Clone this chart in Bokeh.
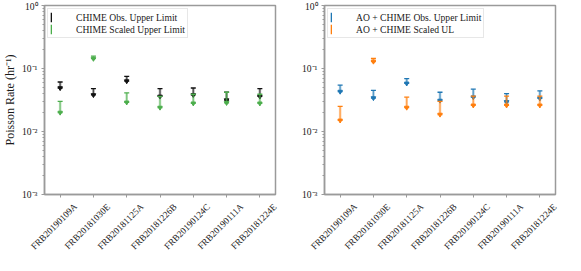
import math
from bokeh.plotting import figure
from bokeh.models import (ColumnDataSource, Range1d, Legend, LegendItem,
                          CustomJSTickFormatter, LogTicker, FixedTicker)
from bokeh.layouts import row, column
from bokeh.embed import file_html
from bokeh.resources import INLINE

frbs = ["FRB20190109A", "FRB20181030E", "FRB20181125A", "FRB20181226B",
        "FRB20190124C", "FRB20190111A", "FRB20181224E"]

# Left panel
chime_obs_ul = [0.061, 0.048, 0.075, 0.048, 0.049, 0.042, 0.048]
chime_obs_low = [0.049, 0.038, 0.063, 0.036, 0.038, 0.0315, 0.036]
chime_scaled_ul = [0.030, 0.157, 0.041, 0.036, 0.039, 0.042, 0.039]
chime_scaled_low = [0.020, 0.143, 0.029, 0.024, 0.028, 0.0285, 0.028]

# Right panel
ao_obs_ul = [0.0545, 0.045, 0.069, 0.042, 0.047, 0.040, 0.044]
ao_obs_low = [0.043, 0.034, 0.058, 0.031, 0.035, 0.0296, 0.0336]
ao_scaled_ul = [0.025, 0.144, 0.035, 0.030, 0.0365, 0.0365, 0.0365]
ao_scaled_low = [0.015, 0.129, 0.024, 0.0186, 0.026, 0.026, 0.026]

Y_MIN, Y_MAX = 1e-3, 1.0
xpos = list(range(len(frbs)))
X_PAD = 0.47
X0, X1 = -X_PAD, len(frbs) - 1 + X_PAD

FONT = "Liberation Serif"
FS_TICK = "9.2px"
FS_LEG = "9.6px"
FS_YLAB = "12px"
SPINE = "#9a9a9a"
TXT = "#1a1a1a"

FRAME_W, FRAME_H = 231, 189
TOP_B, BOT_B = 5, 6
LAB_H = 60
LAB_CENTER_FROM_TOP = 26
# (left border, right border) of the two panels
B1 = (40, 14)
B2 = (35, 10)

sup_js = """
const e = Math.round(Math.log10(tick));
const m = {"-":"\u207b","0":"\u2070","1":"\u00b9","2":"\u00b2","3":"\u00b3","4":"\u2074","5":"\u2075","6":"\u2076","7":"\u2077","8":"\u2078","9":"\u2079"};
return "10" + String(e).split("").map(c => m[c]).join("");
"""


def make_panel(series, ylabel, borders):
    p = figure(x_range=Range1d(X0, X1),
               y_axis_type="log", y_range=Range1d(Y_MIN, Y_MAX),
               frame_width=FRAME_W, frame_height=FRAME_H,
               min_border_left=borders[0], min_border_right=borders[1],
               min_border_top=TOP_B, min_border_bottom=BOT_B,
               output_backend="svg", toolbar_location=None)
    p.grid.visible = False
    p.outline_line_color = SPINE
    p.outline_line_width = 1.5
    p.background_fill_color = "white"
    p.border_fill_color = "white"

    for ax in (p.xaxis[0], p.yaxis[0]):
        ax.axis_line_color = SPINE
        ax.axis_line_width = 1.5
        ax.major_tick_line_color = SPINE
        ax.minor_tick_line_color = SPINE
        ax.major_label_text_font = FONT
        ax.major_label_text_font_size = FS_TICK
        ax.major_label_text_color = TXT
        ax.axis_label_text_font = FONT
        ax.axis_label_text_font_size = FS_YLAB
        ax.axis_label_text_font_style = "normal"
        ax.axis_label_text_color = TXT

    # x ticks only; the names are drawn centred & rotated in the strip below
    p.xaxis.ticker = FixedTicker(ticks=xpos, minor_ticks=[])
    p.xaxis.formatter = CustomJSTickFormatter(code="return '';")
    p.xaxis.major_label_text_font_size = "1px"
    p.xaxis.major_label_standoff = 0
    p.xaxis.major_tick_out = 3
    p.xaxis.major_tick_in = 0

    p.yaxis.ticker = LogTicker(num_minor_ticks=10)
    p.yaxis.formatter = CustomJSTickFormatter(code=sup_js)
    p.yaxis.major_label_text_font_size = "9.6px"
    p.yaxis.major_tick_out = 3
    p.yaxis.major_tick_in = 0
    p.yaxis.minor_tick_out = 2
    p.yaxis.minor_tick_in = 0
    p.yaxis.major_label_standoff = 4
    if ylabel:
        p.yaxis.axis_label = ylabel
        p.yaxis.axis_label_standoff = 2

    items = []
    for label, top, low, color in series:
        src = ColumnDataSource(dict(x=xpos, top=top, low=low))
        p.segment(x0="x", y0="low", x1="x", y1="top", source=src,
                  line_color=color, line_width=2.5, line_alpha=0.4)
        p.segment(x0="x", y0="low", x1="x", y1="top", source=src,
                  line_color=color, line_width=0.8, line_alpha=0.8)
        p.scatter(x="x", y="top", source=src, marker="dash", size=5,
                  line_color=color, line_width=1.3)
        p.scatter(x="x", y="low", source=src, marker="dash", size=5,
                  line_color=color, line_width=1.3)
        p.scatter(x="x", y="low", source=src, marker="inverted_triangle",
                  size=4.5, line_color=color, fill_color=color)
        # legend icon: thin vertical bar (one invisible point)
        r1 = p.vbar(x=[xpos[0]], top=[float("nan")], bottom=[float("nan")],
                    width=0.05, fill_color=color, line_color=None)
        items.append(LegendItem(label=label, renderers=[r1]))

    leg = Legend(items=items, location="top_left")
    leg.label_text_font = FONT
    leg.label_text_font_size = FS_LEG
    leg.label_text_color = TXT
    leg.label_standoff = 24
    leg.glyph_width = 2
    leg.glyph_height = 12
    leg.label_height = 12
    leg.padding = 2
    leg.spacing = 0
    leg.margin = 3
    leg.border_line_color = "#d0d0d0"
    leg.border_line_width = 1
    leg.background_fill_alpha = 0.9
    p.add_layout(leg)
    return p


p1 = make_panel([
    ("CHIME Obs. Upper Limit", chime_obs_ul, chime_obs_low, "#111111"),
    ("CHIME Scaled Upper Limit", chime_scaled_ul, chime_scaled_low, "#4cae4c"),
], "Poisson Rate (hr\u207b\u00b9)", B1)

p2 = make_panel([
    ("AO + CHIME Obs. Upper Limit", ao_obs_ul, ao_obs_low, "#1f77b4"),
    ("AO + CHIME Scaled UL", ao_scaled_ul, ao_scaled_low, "#ff7f0e"),
], None, B2)

# Strip under both panels with the rotated, centred category names
# (pixel-unit ranges; x positions follow each panel's own x scale)
W1 = B1[0] + FRAME_W + B1[1]
W2 = B2[0] + FRAME_W + B2[1]
pxu = FRAME_W / (X1 - X0)
frame_left = [B1[0], W1 + B2[0]]
lab_x, lab_t = [], []
for fl in frame_left:
    for xi, name in zip(xpos, frbs):
        lab_x.append(fl + (xi - X0) * pxu)
        lab_t.append(name)

strip = figure(x_range=Range1d(0, W1 + W2), y_range=Range1d(-LAB_H, 0),
               frame_width=W1 + W2, frame_height=LAB_H,
               min_border_left=0, min_border_right=0,
               min_border_top=0, min_border_bottom=0,
               output_backend="svg", toolbar_location=None)
strip.axis.visible = False
strip.grid.visible = False
strip.outline_line_color = None
strip.background_fill_color = "white"
strip.border_fill_color = "white"
strip.text(x="x", y="y",
           source=ColumnDataSource(dict(
               x=lab_x, y=[-LAB_CENTER_FROM_TOP] * len(lab_x), t=lab_t)),
           text="t", angle=math.pi / 4, text_align="center",
           text_baseline="middle", x_offset=-2,
           text_font={"value": FONT}, text_font_size={"value": FS_TICK},
           text_color=TXT)

layout = column(row(p1, p2), strip)
open("out.html", "w").write(file_html(layout, INLINE))
